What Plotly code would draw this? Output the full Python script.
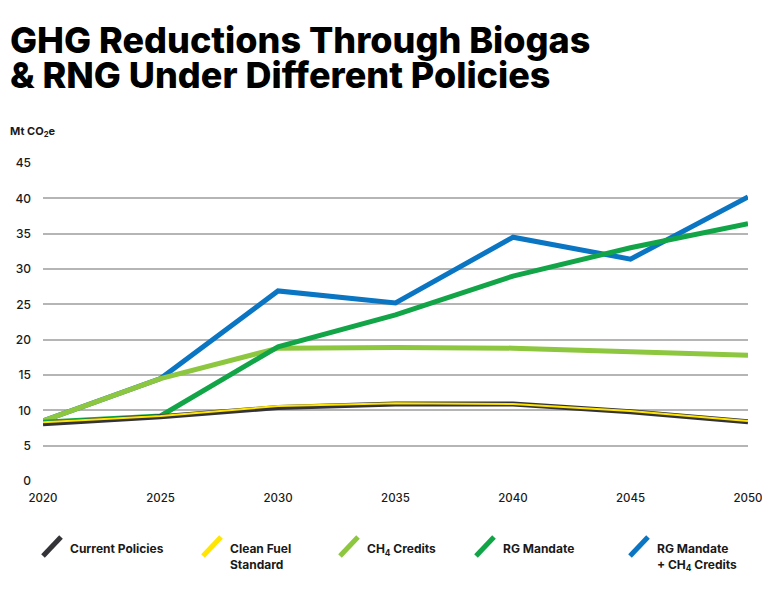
import plotly.graph_objects as go

years = [2020, 2025, 2030, 2035, 2040, 2045, 2050]
current_policies = [8.1, 9.1, 10.4, 10.9, 10.9, 9.8, 8.4]
clean_fuel = [8.3, 9.2, 10.6, 11.0, 10.9, 9.9, 8.5]
ch4_credits = [8.5, 14.5, 18.8, 18.9, 18.8, 18.3, 17.8]
rg_mandate = [8.3, 9.2, 19.0, 23.5, 29.0, 33.0, 36.4]
rg_ch4 = [8.5, 14.5, 26.9, 25.2, 34.5, 31.4, 40.2]

y_ticks = [0, 5, 10, 15, 20, 25, 30, 35, 40, 45]

FONT = "Inter"
DARK = "#1a1a1a"

fig = go.Figure()

# draw order: blue, light green, green, current policies, clean fuel
fig.add_trace(go.Scatter(x=years, y=rg_ch4, mode="lines", name="RG Mandate + CH4 Credits",
                         line=dict(color="#0a75c2", width=5), showlegend=False))
fig.add_trace(go.Scatter(x=years, y=ch4_credits, mode="lines", name="CH4 Credits",
                         line=dict(color="#8dc63f", width=5), showlegend=False))
fig.add_trace(go.Scatter(x=years, y=rg_mandate, mode="lines", name="RG Mandate",
                         line=dict(color="#12a548", width=5), showlegend=False))
fig.add_trace(go.Scatter(x=years, y=current_policies, mode="lines", name="Current Policies",
                         line=dict(color="#333338", width=5), showlegend=False))
fig.add_trace(go.Scatter(x=years, y=clean_fuel, mode="lines", name="Clean Fuel Standard",
                         line=dict(color="#ffe500", width=2), showlegend=False))

# page body adds an 8px margin on each side; keep the figure inside the window
OFF = 8
W, H = 754, 584
ML, MT = 43 - OFF, 163 - OFF
MR = W - (748 - OFF)
MB = H - (481 - OFF)

fig.update_layout(
    width=W, height=H, autosize=False,
    margin=dict(l=ML, r=MR, t=MT, b=MB, autoexpand=False),
    paper_bgcolor="white", plot_bgcolor="white",
    font=dict(family=FONT, color=DARK),
    xaxis=dict(range=[2020, 2050], tickvals=years, showgrid=False, zeroline=False,
               showline=False, ticks="", automargin=False,
               tickfont=dict(size=11.5, color=DARK, family=FONT, weight=500),
               ticklabelstandoff=8, ticklabeloverflow="allow"),
    yaxis=dict(range=[0, 45], tickvals=y_ticks, showgrid=True, gridcolor="#b5b5b5", gridwidth=1.5,
               zeroline=False, showline=False, ticks="", automargin=False,
               tickfont=dict(size=12, color=DARK, family=FONT, weight=500), ticklabelstandoff=11),
)

pw, ph = W - ML - MR, H - MT - MB
def px_x(x):
    return (x - OFF - ML) / pw
def px_y(y):
    return (H - MB - (y - OFF)) / ph

# Title (two lines, tight leading)
for i, line in enumerate(["GHG Reductions Through Biogas", "&amp; RNG Under Different Policies"]):
    fig.add_annotation(xref="paper", yref="paper", x=px_x(8), y=px_y(40 + 35 * i),
                       xanchor="left", yanchor="middle", align="left", showarrow=False,
                       text=line, font=dict(family=FONT, size=36, color="#000000", weight=800))

# Y axis unit label
fig.add_annotation(xref="paper", yref="paper", x=px_x(8), y=px_y(131),
                   xanchor="left", yanchor="middle", showarrow=False,
                   text="Mt CO<sub>2</sub>e", font=dict(family=FONT, size=11, color=DARK, weight=700))

# Custom legend with diagonal keys
legend_items = [
    ("Current Policies", "#333338", 43),
    ("Clean Fuel<br>Standard", "#ffe500", 203),
    ("CH<sub>4</sub> Credits", "#8dc63f", 340),
    ("RG Mandate", "#12a548", 476),
    ("RG Mandate<br>+ CH<sub>4</sub> Credits", "#0a75c2", 630),
]

for label, color, x0 in legend_items:
    fig.add_shape(type="line", xref="paper", yref="paper",
                  x0=px_x(x0 + 0), y0=px_y(556), x1=px_x(x0 + 18), y1=px_y(537),
                  line=dict(color=color, width=5))
    fig.add_annotation(xref="paper", yref="paper", x=px_x(x0 + 25), y=px_y(539),
                       xanchor="left", yanchor="top", align="left", showarrow=False,
                       text=label, font=dict(family=FONT, size=12, color=DARK, weight=700))

fig.write_html("out.html")
